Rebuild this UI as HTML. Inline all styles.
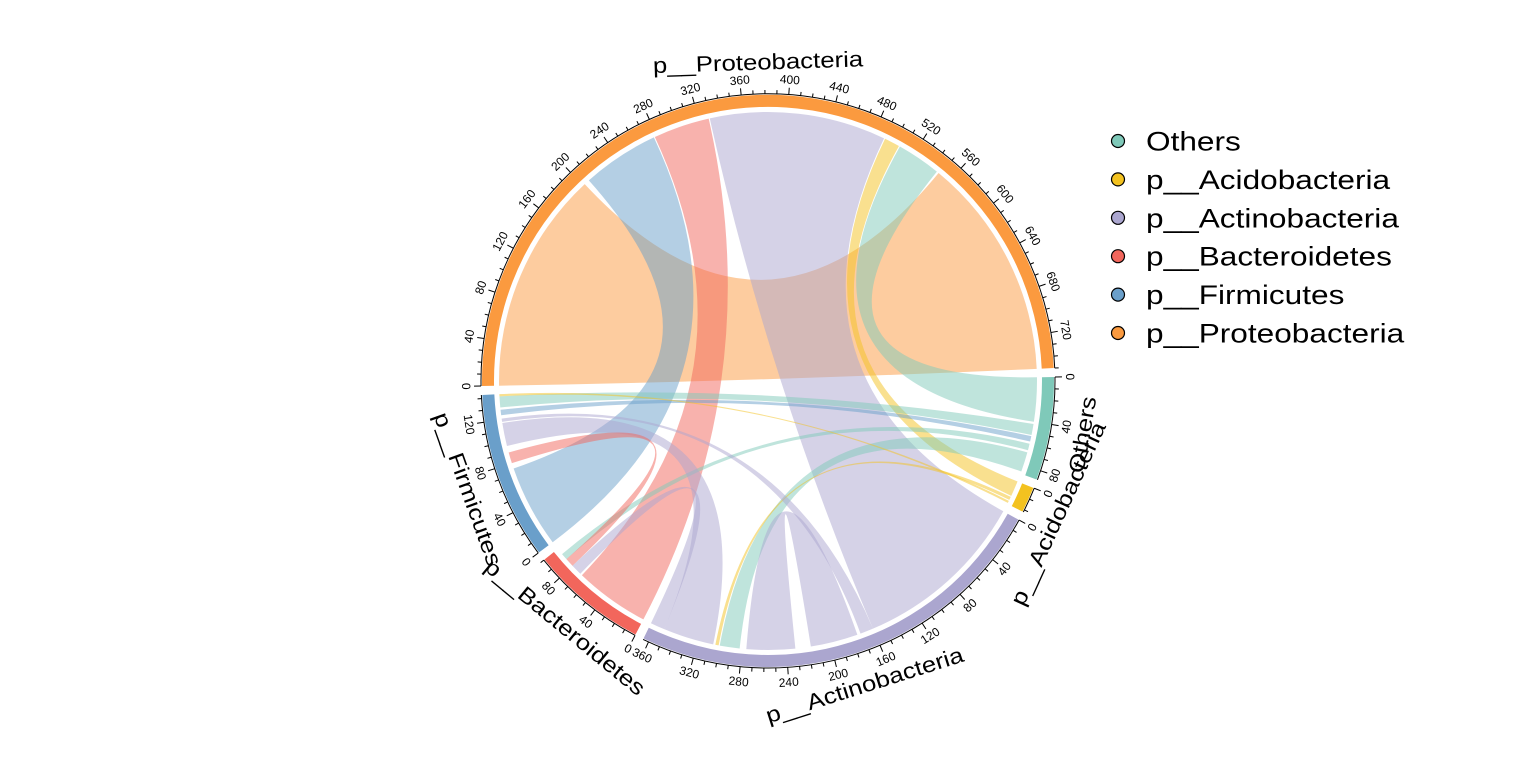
<!DOCTYPE html>
<html><head><meta charset="utf-8"><style>
html,body{margin:0;padding:0;background:#fff;}
svg{display:block;font-family:"Liberation Sans",Arial,sans-serif;}
</style></head><body>
<svg id="chart" width="1536" height="768" viewBox="0 0 1536 768">
<g id="chords"></g>
<g id="tracks"></g>
<g id="legend"></g>
</svg>
<script>
const sectorNames=["p__Proteobacteria","Others","p__Acidobacteria","p__Actinobacteria","p__Bacteroidetes","p__Firmicutes"];
const sectorSizes=[750,88,22,365,100,143];
const sectorColors=["#FB9A3F","#7FC9B9","#F3C220","#ABA6CF","#F2665C","#6A9FCA"];
const legendNames=["Others","p__Acidobacteria","p__Actinobacteria","p__Bacteroidetes","p__Firmicutes","p__Proteobacteria"];
const legendColors=["#7FC9B9","#F3C220","#ABA6CF","#F2665C","#6A9FCA","#FB9A3F"];
const linkFrom=[0,0,0,0,0,0,1,1,1,1,2,2,3,3,3,3,4];
const linkFromStart=[0,207,278,330,491,506,42,53,60,68,15,19,160,175,306,352,80];
const linkFromEnd=[202,277,329,490,505,546,52,58,66,86,18,21,172,218,352,365,88];
const linkTo=[0,5,4,3,2,1,5,5,4,3,3,5,5,3,5,4,5];
const linkToStart=[548,0,0,0,0,0,131,124,88,282,301,141,118,232,96,70,80];
const linkToEnd=[750,75,68,160,14,40,141,129,94,300,304,143,121,276,117,80,90];
const linkColor=[0,5,4,3,2,1,1,5,1,1,2,2,3,3,3,3,4];

const NS="http://www.w3.org/2000/svg";
const cx=768,cy=381,Rc=269,Rin=274,Rout=286;
const startAngle=179,gap=1.8;
const total=sectorSizes.reduce((a,b)=>a+b,0);
const dpu=(360-gap*sectorSizes.length)/total;
const secStart=[];let acc=startAngle;
for(let i=0;i<sectorSizes.length;i++){secStart.push(acc);acc+=sectorSizes[i]*dpu+gap;}
function ang(s,u){return secStart[s]+u*dpu;}
function pt(a,r){const t=a*Math.PI/180;return [cx+r*Math.cos(t),cy+r*Math.sin(t)];}
function f(p){return p[0].toFixed(2)+" "+p[1].toFixed(2);}
function mk(tag,attrs,parent){const e=document.createElementNS(NS,tag);for(const k in attrs)e.setAttribute(k,attrs[k]);parent.appendChild(e);return e;}
function stretch(t,k){const w=t.getComputedTextLength();t.setAttribute("textLength",(w*k).toFixed(1));t.setAttribute("lengthAdjust","spacingAndGlyphs");}

const gC=document.getElementById("chords");
for(let i=0;i<linkFrom.length;i++){
  const a1=ang(linkFrom[i],linkFromStart[i]),a2=ang(linkFrom[i],linkFromEnd[i]);
  const b1=ang(linkTo[i],linkToStart[i]),b2=ang(linkTo[i],linkToEnd[i]);
  const c=f([cx,cy]);
  const d="M"+f(pt(a1,Rc))+" A"+Rc+" "+Rc+" 0 "+((a2-a1)>180?1:0)+" 1 "+f(pt(a2,Rc))+
    " Q"+c+" "+f(pt(b1,Rc))+" A"+Rc+" "+Rc+" 0 "+((b2-b1)>180?1:0)+" 1 "+f(pt(b2,Rc))+
    " Q"+c+" "+f(pt(a1,Rc))+"Z";
  const p=mk("path",{d:d,fill:sectorColors[linkColor[i]],"fill-opacity":"0.5",stroke:"none"},gC);
  
  
}

const gT=document.getElementById("tracks");
for(let s=0;s<sectorSizes.length;s++){
  const a1=ang(s,0),a2=ang(s,sectorSizes[s]);
  const d="M"+f(pt(a1,Rout))+" A"+Rout+" "+Rout+" 0 "+((a2-a1)>180?1:0)+" 1 "+f(pt(a2,Rout))+
    " L"+f(pt(a2,Rin))+" A"+Rin+" "+Rin+" 0 "+((a2-a1)>180?1:0)+" 0 "+f(pt(a1,Rin))+"Z";
  const tr=mk("path",{d:d,fill:sectorColors[s]},gT);
  
  
  const ax=mk("path",{d:"M"+f(pt(a1,Rout+1))+" A"+(Rout+1)+" "+(Rout+1)+" 0 "+((a2-a1)>180?1:0)+" 1 "+f(pt(a2,Rout+1)),fill:"none",stroke:"#000","stroke-width":"1"},gT);
  
  
  for(let u=0;u<=sectorSizes[s];u+=10){
    const a=ang(s,u);const major=(u%40===0);
    const p1=pt(a,Rout+1),p2=pt(a,Rout+(major?8:5));
    const tk=mk("line",{x1:p1[0],y1:p1[1],x2:p2[0],y2:p2[1],stroke:"#000","stroke-width":"1"},gT);
    
    
    if(major){
      const lp=pt(a,Rout+16);let rot=a+90;rot=((rot%360)+360)%360;if(rot>90&&rot<270)rot+=180;
      const t=mk("text",{x:lp[0],y:lp[1],"font-size":"12","text-anchor":"middle","dominant-baseline":"central",transform:"rotate("+rot.toFixed(1)+" "+lp[0].toFixed(1)+" "+lp[1].toFixed(1)+")"},gT);
      t.textContent=u;
      
      
    }
  }
  const am=(a1+a2)/2;const np=pt(am,Rout+33);let rot=am+90;rot=((rot%360)+360)%360;if(rot>90&&rot<270)rot+=180;
  const nt=mk("text",{x:np[0],y:np[1],"font-size":"22","text-anchor":"middle","dominant-baseline":"central",transform:"rotate("+rot.toFixed(1)+" "+np[0].toFixed(1)+" "+np[1].toFixed(1)+")"},gT);
  nt.textContent=sectorNames[s];
  
  
  stretch(nt,1.17);
}

const gL=document.getElementById("legend");
for(let i=0;i<legendNames.length;i++){
  const y=141+i*38.4;
  const c=mk("circle",{cx:1118,cy:y,r:6.5,fill:legendColors[i],stroke:"#000","stroke-width":"1.2"},gL);
  
  
  const t=mk("text",{x:1146,y:y+9.5,"font-size":"27"},gL);
  t.textContent=legendNames[i];
  
  
  stretch(t,1.17);
}
</script>
</body></html>
